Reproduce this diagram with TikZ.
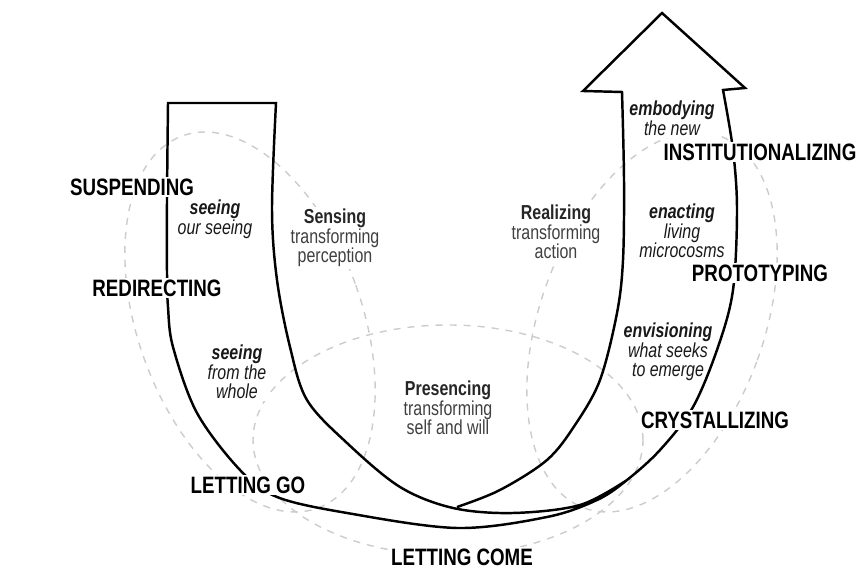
\documentclass[tikz,border=0pt]{standalone}
\usepackage{fontspec}
\setmainfont{Liberation Sans}[FakeStretch=0.79]

\begin{document}
\begin{tikzpicture}[
    guide/.style={draw=black!20, line width=0.8pt, dash pattern=on 4pt off 4pt},
    uline/.style={line width=1.4pt},
    move/.style={font=\fontsize{13.5}{14}\selectfont\bfseries, fill=white, inner sep=1pt},
    act/.style={font=\fontsize{11.5}{11.2}\selectfont\itshape, align=center, text=black!90, fill=white, inner sep=1pt},
    field/.style={font=\fontsize{11.5}{11.2}\selectfont, align=center, text=black!75, fill=white, inner sep=1pt}
]
    \useasboundingbox (0,0) rectangle (17.18,11.7);

    % dashed fields
    \draw[guide, rotate around={20:(5.0,5.26)}] (5.0,5.26) ellipse [x radius=2.24, y radius=3.96];
    \draw[guide, rotate around={-20:(13.04,5.26)}] (13.04,5.26) ellipse [x radius=2.24, y radius=3.96];
    \draw[guide] (8.96,2.9) ellipse [x radius=3.9, y radius=2.3];

    \node[field] (sens) at (6.70,6.94) {{\bfseries\color{black!85}Sensing}\\transforming\\perception};
    \node[field] (pres) at (8.96,3.54) {{\bfseries\color{black!85}Presencing}\\transforming\\self and will};
    \node[field] (real) at (11.12,7.06) {{\bfseries\color{black!85}Realizing}\\transforming\\action};

    \node[act] (seeour) at (4.30,7.32) {{\bfseries seeing}\\our seeing};
    \node[act] (seewhole) at (4.74,4.26) {{\bfseries seeing}\\from the\\whole};
    \node[act] (envis) at (13.36,4.66) {{\bfseries envisioning}\\what seeks\\to emerge};
    \node[act] (enact) at (13.64,7.08) {{\bfseries enacting}\\living\\microcosms};
    \node[act] (embody) at (13.44,9.33) {{\bfseries embodying}\\the new};

    % the U
    \draw[uline] plot[smooth, tension=0.55] coordinates {(12.54,2.10) (11.60,1.60) (10.26,1.44) (9.06,1.54) (8.00,1.96) (6.94,2.84) (6.14,3.70) (5.80,4.76) (5.54,6.10) (5.44,7.50) (5.52,9.64)}
        -- plot[smooth, tension=0.55] coordinates {(3.36,9.64) (3.34,7.70) (3.34,6.24) (3.36,5.56) (3.46,4.76) (3.94,3.44) (4.80,2.30) (5.54,1.76) (6.94,1.44) (9.14,1.14) (10.94,1.36) (11.94,1.70) (12.54,2.10) (13.20,2.70) (13.86,3.56) (14.36,4.76) (14.66,5.90) (14.74,7.50) (14.66,8.70) (14.46,9.90)}
        -- (14.90,9.94) -- (13.24,11.44) -- (11.66,9.88) -- (12.44,9.86)
        -- plot[smooth, tension=0.55] coordinates {(12.44,9.86) (12.48,8.10) (12.46,6.50) (12.34,5.44) (12.00,4.10) (11.50,3.20) (10.94,2.50) (10.00,1.90) (9.14,1.56)};

    \node[move] (susp) at (2.64,7.96) {SUSPENDING};
    \node[move] (redir) at (3.14,5.94) {REDIRECTING};
    \node[move] (letgo) at (4.96,2.00) {LETTING GO};
    \node[move] (letcome) at (9.24,0.56) {LETTING COME};
    \node[move] (cryst) at (14.30,3.30) {CRYSTALLIZING};
    \node[move] (proto) at (15.20,6.24) {PROTOTYPING};
    \node[move] (inst) at (15.20,8.66) {INSTITUTIONALIZING};
\end{tikzpicture}
\end{document}
